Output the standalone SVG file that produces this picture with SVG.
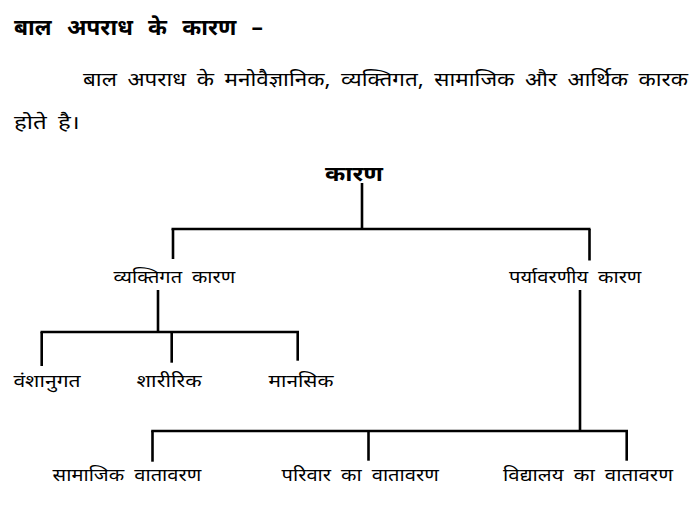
<svg xmlns="http://www.w3.org/2000/svg" width="699" height="515" viewBox="0 0 699 515">
<style>
text{font-family:"Noto Sans","DejaVu Sans",sans-serif;fill:#000}
.h{font-weight:bold}
.t{font-size:22px;word-spacing:9px}
.p{font-size:19px;word-spacing:4px}
.r{font-size:20px}
.l{font-size:17px;word-spacing:4px}
#connectors line{stroke:#000;stroke-width:2.6;stroke-linecap:butt}
</style>
<rect width="699" height="515" fill="#fff"/>
<g id="header">
<text class="h t" x="14" y="35" textLength="249" lengthAdjust="spacingAndGlyphs">बाल अपराध के कारण –</text>
<text class="p" x="83" y="85.5" textLength="605" lengthAdjust="spacingAndGlyphs">बाल अपराध के मनोवैज्ञानिक, व्यक्तिगत, सामाजिक और आर्थिक कारक</text>
<text class="p" x="14" y="129" textLength="66" lengthAdjust="spacingAndGlyphs">होते है।</text>
</g>
<g id="connectors">
<line x1="362" y1="183" x2="362" y2="229"/>
<line x1="171.5" y1="229" x2="590.5" y2="229"/>
<line x1="173" y1="229" x2="173" y2="259"/>
<line x1="589.5" y1="229" x2="589.5" y2="260.5"/>
<line x1="158" y1="290" x2="158" y2="332"/>
<line x1="40.5" y1="332" x2="299" y2="332"/>
<line x1="41.7" y1="332" x2="41.7" y2="366"/>
<line x1="171.7" y1="332" x2="171.7" y2="362.7"/>
<line x1="297.7" y1="332" x2="297.7" y2="360.7"/>
<line x1="580" y1="290" x2="580" y2="431"/>
<line x1="151.2" y1="431" x2="628" y2="431"/>
<line x1="152.5" y1="431" x2="152.5" y2="461.7"/>
<line x1="368.5" y1="431" x2="368.5" y2="460.7"/>
<line x1="626.7" y1="431" x2="626.7" y2="460.7"/>
</g>
<g id="node-root"><text class="h r" x="325" y="181" textLength="58" lengthAdjust="spacingAndGlyphs">कारण</text></g>
<g id="node-vyaktigat"><text class="l" x="113.6" y="283" textLength="121.6" lengthAdjust="spacingAndGlyphs">व्यक्तिगत कारण</text></g>
<g id="node-paryavarniya"><text class="l" x="509" y="283" textLength="132.4" lengthAdjust="spacingAndGlyphs">पर्यावरणीय कारण</text></g>
<g id="node-vanshanugat"><text class="l" x="13.4" y="386.5" textLength="67.2" lengthAdjust="spacingAndGlyphs">वंशानुगत</text></g>
<g id="node-sharirik"><text class="l" x="136.6" y="386.5" textLength="65" lengthAdjust="spacingAndGlyphs">शारीरिक</text></g>
<g id="node-mansik"><text class="l" x="268.5" y="386.5" textLength="65" lengthAdjust="spacingAndGlyphs">मानसिक</text></g>
<g id="node-samajik"><text class="l" x="52.6" y="481" textLength="148.7" lengthAdjust="spacingAndGlyphs">सामाजिक वातावरण</text></g>
<g id="node-parivar"><text class="l" x="281.5" y="481" textLength="157.3" lengthAdjust="spacingAndGlyphs">परिवार का वातावरण</text></g>
<g id="node-vidyalaya"><text class="l" x="503" y="481" textLength="170" lengthAdjust="spacingAndGlyphs">विद्यालय का वातावरण</text></g>
</svg>
